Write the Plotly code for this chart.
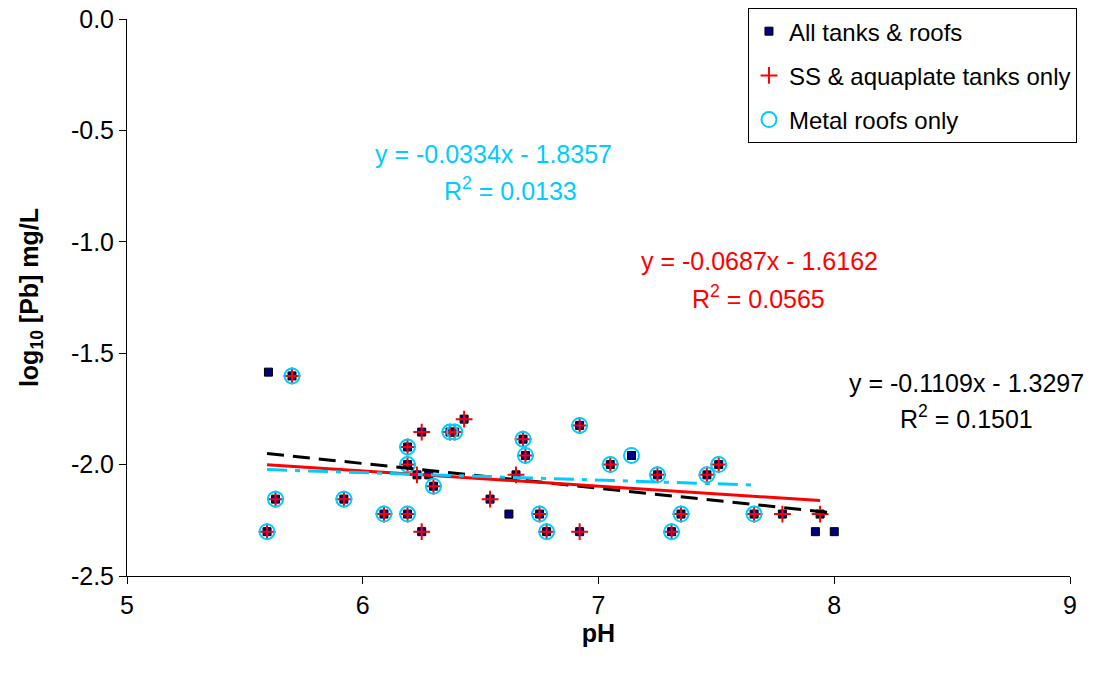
import plotly.graph_objects as go
import numpy as np

# ---- data (pH, log10[Pb]) ----
all_ph = [5.60, 5.70, 5.594, 5.63, 5.92, 6.09, 6.19, 6.19, 6.19, 6.25, 6.25, 6.23, 6.28,
          6.30, 6.37, 6.39, 6.43, 6.54, 6.62, 6.65, 6.68, 6.69, 6.75, 6.78, 6.92, 6.92,
          7.05, 7.14, 7.25, 7.35, 7.31, 7.46, 7.51, 7.66, 7.78, 7.94, 7.92, 8.00]
all_pb = [-1.585, -1.602, -2.301, -2.155, -2.155, -2.222, -2.222, -1.921, -2.000, -1.854, -2.301, -2.046, -2.046,
          -2.097, -1.854, -1.854, -1.796, -2.155, -2.222, -2.046, -1.886, -1.959, -2.222, -2.301, -1.824, -2.301,
          -2.000, -1.959, -2.046, -2.222, -2.301, -2.046, -2.000, -2.222, -2.222, -2.222, -2.301, -2.301]

ss_ph = [5.70, 5.594, 5.63, 5.92, 6.09, 6.19, 6.19, 6.19, 6.25, 6.25, 6.23,
         6.30, 6.37, 6.39, 6.43, 6.54, 6.65, 6.68, 6.69, 6.75, 6.78, 6.92, 6.92,
         7.05, 7.25, 7.35, 7.31, 7.46, 7.51, 7.66, 7.78, 7.94]
ss_pb = [-1.602, -2.301, -2.155, -2.155, -2.222, -2.222, -1.921, -2.000, -1.854, -2.301, -2.046,
         -2.097, -1.854, -1.854, -1.796, -2.155, -2.046, -1.886, -1.959, -2.222, -2.301, -1.824, -2.301,
         -2.000, -2.046, -2.222, -2.301, -2.046, -2.000, -2.222, -2.222, -2.222]

metal_ph = [5.70, 5.594, 5.63, 5.92, 6.09, 6.19, 6.19, 6.19,
            6.30, 6.37, 6.39, 6.68, 6.69, 6.75, 6.78, 6.92,
            7.05, 7.14, 7.25, 7.35, 7.31, 7.46, 7.51, 7.66]
metal_pb = [-1.602, -2.301, -2.155, -2.155, -2.222, -2.222, -1.921, -2.000,
            -2.097, -1.854, -1.854, -1.886, -1.959, -2.222, -2.301, -1.824,
            -2.000, -1.959, -2.046, -2.222, -2.301, -2.046, -2.000, -2.222]

# trendline coefficients (slope, intercept, R2)
fit_all = (-0.1109, -1.3297, 0.1501)
fit_ss = (-0.0687, -1.6162, 0.0565)
fit_metal = (-0.0334, -1.8357, 0.0133)

x_ticks = [5, 6, 7, 8, 9]
y_ticks = [0.0, -0.5, -1.0, -1.5, -2.0, -2.5]

FONT = "Arial, Liberation Sans, sans-serif"
CYAN = "#00CCFF"
RED = "#FF0000"
NAVY = "#000080"

fig = go.Figure()

def trend(xs, fit):
    xr = np.array([min(xs), max(xs)])
    return xr, fit[0] * xr + fit[1]

fig.add_trace(go.Scatter(
    x=all_ph, y=all_pb, mode="markers", name="All tanks & roofs",
    legendgroup="a",
    marker=dict(symbol="square", size=8, color=NAVY, line=dict(color="black", width=1))))
fig.add_trace(go.Scatter(
    x=ss_ph, y=ss_pb, mode="markers", name="SS & aquaplate tanks only",
    legendgroup="b",
    marker=dict(symbol="cross-thin", size=12, color=RED, line=dict(color=RED, width=2))))
fig.add_trace(go.Scatter(
    x=metal_ph, y=metal_pb, mode="markers", name="Metal roofs only",
    legendgroup="c",
    marker=dict(symbol="circle-open", size=15, color=CYAN, line=dict(color=CYAN, width=2))))

xr, yr = trend(all_ph, fit_all)
fig.add_trace(go.Scatter(x=xr, y=yr, mode="lines", showlegend=False,
                         line=dict(color="black", width=3, dash="17px,9px")))
xr, yr = trend(ss_ph, fit_ss)
fig.add_trace(go.Scatter(x=xr, y=yr, mode="lines", showlegend=False,
                         line=dict(color=RED, width=3)))
xr, yr = trend(metal_ph, fit_metal)
fig.add_trace(go.Scatter(x=xr, y=yr, mode="lines", showlegend=False,
                         line=dict(color=CYAN, width=3, dash="20px,8px,5px,8px")))

def eq_text(fit):
    return (f"y = {fit[0]:.4f}x - {abs(fit[1]):.4f}", f"R<sup>2</sup> = {fit[2]:.4f}")

ann = []
for fit, color, (x1, y1), (x2, y2) in [
        (fit_metal, CYAN, (6.553, -0.608), (6.625, -0.763)),
        (fit_ss, RED, (7.681, -1.088), (7.677, -1.248)),
        (fit_all, "black", (8.563, -1.633), (8.563, -1.788))]:
    t1, t2 = eq_text(fit)
    ann.append(dict(x=x1, y=y1, text=t1, showarrow=False, xref="x", yref="y",
                    font=dict(size=25, color=color, family=FONT)))
    ann.append(dict(x=x2, y=y2, text=t2, showarrow=False, xref="x", yref="y",
                    font=dict(size=25, color=color, family=FONT)))

fig.update_layout(
    width=1110, height=673,
    margin=dict(l=127, r=40, t=19, b=97, autoexpand=False),
    paper_bgcolor="white", plot_bgcolor="white",
    font=dict(family=FONT, size=24, color="black"),
    annotations=ann,
    legend=dict(x=0.6585, y=1.0196, xanchor="left", yanchor="top",
                bordercolor="black", borderwidth=1, bgcolor="white",
                font=dict(size=24, family=FONT), tracegroupgap=10,
                traceorder="grouped", itemwidth=30),
    xaxis=dict(range=[5, 9], tickvals=x_ticks, ticktext=[str(v) for v in x_ticks],
               showgrid=False, zeroline=False, showline=True, linecolor="black", linewidth=1,
               ticks="outside", ticklen=7, tickcolor="black",
               tickfont=dict(size=25, family=FONT),
               title=dict(text="<b>pH</b>", font=dict(size=25, family=FONT), standoff=3)),
    yaxis=dict(range=[-2.5, 0], tickvals=y_ticks, ticktext=[f"{v:.1f}" for v in y_ticks],
               showgrid=False, zeroline=False, showline=True, linecolor="black", linewidth=1,
               ticks="outside", ticklen=7, tickcolor="black",
               tickfont=dict(size=25, family=FONT),
               title=dict(text="<b>log<sub>10</sub> [Pb] mg/L</b>", font=dict(size=25, family=FONT), standoff=25)),
)

fig.write_html("out.html", config={"displayModeBar": False},
               post_script="document.body.style.margin='0';")
